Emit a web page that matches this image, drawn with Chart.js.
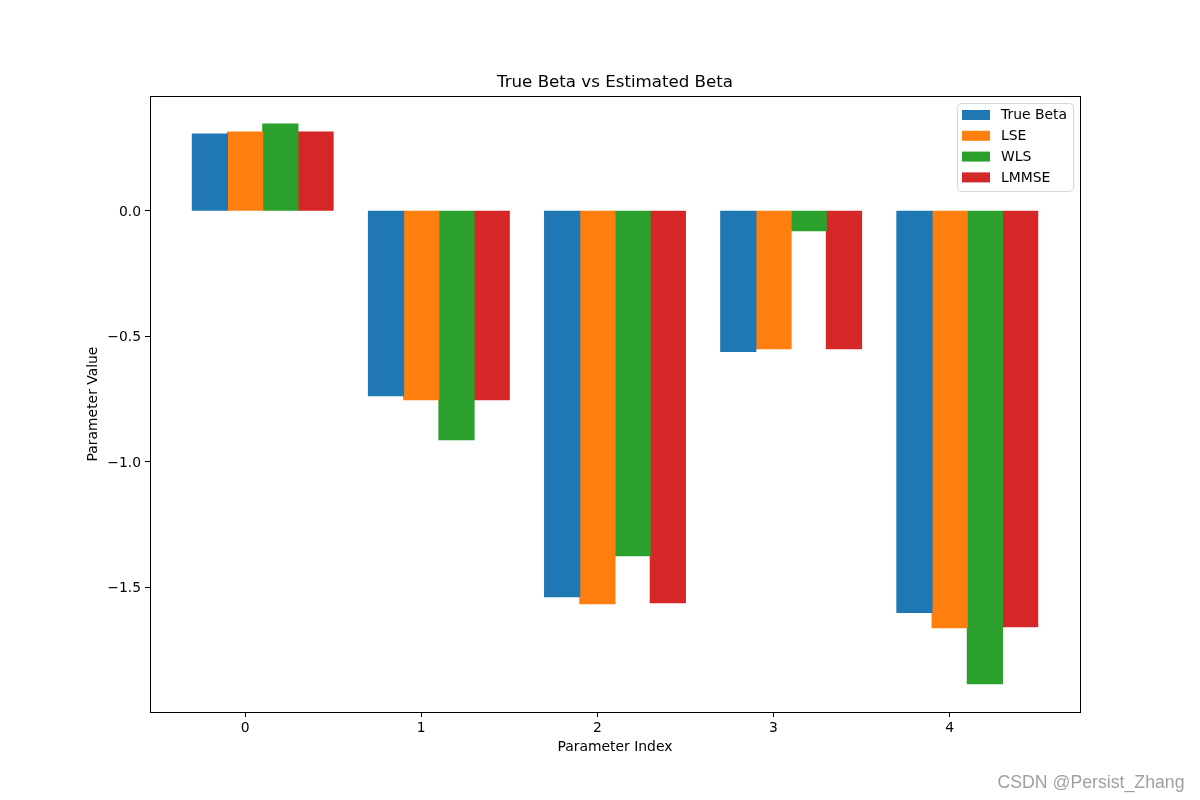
<!DOCTYPE html>
<html>
<head>
<meta charset="utf-8">
<script src="https://cdn.jsdelivr.net/npm/chart.js@4/dist/chart.umd.min.js"></script>
<style>
  html, body { margin: 0; padding: 0; background: #ffffff; }
  #wrap { width: 1200px; height: 800px; position: relative; }
</style>
</head>
<body>
<div id="wrap"><canvas id="c" width="1200" height="800"></canvas></div>
<script>
// ---- data ----
const paramIndex = [0, 1, 2, 3, 4];
const seriesNames = ['True Beta', 'LSE', 'WLS', 'LMMSE'];
const trueBeta = [0.306, -0.737, -1.538, -0.561, -1.601];
const lse      = [0.314, -0.753, -1.566, -0.550, -1.661];
const wls      = [0.345, -0.912, -1.375, -0.080, -1.884];
const lmmse    = [0.314, -0.753, -1.562, -0.550, -1.657];
const xTicks = [0, 1, 2, 3, 4];
const yTicks = [-1.5, -1.0, -0.5, 0.0];
const yTickLabels = ['\u22121.5', '\u22121.0', '\u22120.5', '0.0'];
const chartTitle = 'True Beta vs Estimated Beta';
const xTitle = 'Parameter Index';
const yTitle = 'Parameter Value';
const watermark = 'CSDN @Persist_Zhang';

// ---- styles / layout ----
const colors = ['#1f77b4', '#ff7f0e', '#2ca02c', '#d62728'];
const FONT = "'DejaVu Sans', 'Noto Sans', sans-serif";
const groupShift = 0.1;           // bars span i-0.3 .. i+0.5 like the matplotlib offsets
const xRange = [-0.54, 4.74];
const yRange = [-1.997, 0.457];

const allSeries = [trueBeta, lse, wls, lmmse];
const datasets = allSeries.map((vals, k) => ({
  label: seriesNames[k],
  data: paramIndex.map((p, i) => ({ x: p + groupShift, y: vals[i] })),
  backgroundColor: colors[k],
  borderWidth: 0,
  inflateAmount: 0.5,
  categoryPercentage: 0.8,
  barPercentage: 1.0
}));

const framePlugin = {
  id: 'frame',
  afterDatasetsDraw(chart) {
    const { ctx, chartArea: a } = chart;
    ctx.save();
    ctx.strokeStyle = '#000';
    ctx.lineWidth = 1;
    ctx.strokeRect(Math.round(a.left) + 0.5, Math.round(a.top) + 0.5,
                   Math.round(a.right - a.left), Math.round(a.bottom - a.top));
    ctx.restore();
  }
};

const titlePlugin = {
  id: 'axesTitle',
  afterDraw(chart) {
    const { ctx, chartArea: a } = chart;
    ctx.save();
    ctx.font = '16.67px ' + FONT;
    ctx.fillStyle = '#000';
    ctx.textAlign = 'center';
    ctx.textBaseline = 'alphabetic';
    ctx.fillText(chartTitle, (a.left + a.right) / 2, a.top - 9);
    ctx.restore();
  }
};

const legendPlugin = {
  id: 'innerLegend',
  afterDraw(chart) {
    const { ctx, chartArea: a } = chart;
    const w = 116, h = 88;
    const x = a.right - 7 - w, y = a.top + 7;
    ctx.save();
    ctx.beginPath();
    const r = 4;
    ctx.moveTo(x + r + 0.5, y + 0.5);
    ctx.arcTo(x + w + 0.5, y + 0.5, x + w + 0.5, y + h + 0.5, r);
    ctx.arcTo(x + w + 0.5, y + h + 0.5, x + 0.5, y + h + 0.5, r);
    ctx.arcTo(x + 0.5, y + h + 0.5, x + 0.5, y + 0.5, r);
    ctx.arcTo(x + 0.5, y + 0.5, x + w + 0.5, y + 0.5, r);
    ctx.closePath();
    ctx.fillStyle = 'rgba(255,255,255,0.8)';
    ctx.fill();
    ctx.strokeStyle = 'rgba(204,204,204,0.8)';
    ctx.lineWidth = 1;
    ctx.stroke();
    ctx.font = '13.9px ' + FONT;
    ctx.textBaseline = 'middle';
    ctx.textAlign = 'left';
    chart.data.datasets.forEach((ds, i) => {
      const cy = y + 12 + i * 20.8;
      ctx.fillStyle = ds.backgroundColor;
      ctx.fillRect(x + 5, cy - 5, 28, 10);
      ctx.fillStyle = '#000';
      ctx.fillText(ds.label, x + 44, cy + 0.5);
    });
    ctx.restore();
  }
};

const watermarkPlugin = {
  id: 'watermark',
  afterDraw(chart) {
    const ctx = chart.ctx;
    ctx.save();
    ctx.font = "19px 'Liberation Sans', Arial, sans-serif";
    ctx.fillStyle = '#a0a0a0';
    ctx.textBaseline = 'alphabetic';
    ctx.textAlign = 'left';
    const tw = ctx.measureText(watermark).width;
    const sx = 187 / tw;
    ctx.translate(997.5, 788.3);
    ctx.scale(sx, 1);
    ctx.fillText(watermark, 0, 0);
    ctx.restore();
  }
};

new Chart(document.getElementById('c'), {
  type: 'bar',
  data: { datasets },
  plugins: [framePlugin, titlePlugin, legendPlugin, watermarkPlugin],
  options: {
    responsive: false,
    animation: false,
    layout: { padding: { left: 0, right: 120, top: 96, bottom: 0 } },
    plugins: {
      legend: { display: false },
      tooltip: { enabled: false },
      title: { display: false }
    },
    scales: {
      x: {
        type: 'linear',
        position: 'bottom',
        offset: false,
        min: xRange[0],
        max: xRange[1],
        afterBuildTicks: (s) => { s.ticks = xTicks.map(v => ({ value: v })); },
        afterFit: (s) => { s.height = 88; },
        ticks: {
          color: '#000',
          font: { family: FONT, size: 13.9 },
          padding: 3,
          maxRotation: 0,
          autoSkip: false,
          callback: (v) => String(v)
        },
        grid: { display: true, offset: false, drawOnChartArea: false, drawTicks: true, tickLength: 5, color: '#000', tickWidth: 1 },
        border: { display: false },
        title: {
          display: true,
          text: xTitle,
          color: '#000',
          font: { family: FONT, size: 13.9, lineHeight: 1.2 },
          padding: { top: 0, bottom: 44.2 }
        }
      },
      y: {
        type: 'linear',
        min: yRange[0],
        max: yRange[1],
        afterBuildTicks: (s) => { s.ticks = yTicks.map(v => ({ value: v })); },
        afterFit: (s) => { s.width = 150; },
        ticks: {
          color: '#000',
          font: { family: FONT, size: 13.9 },
          padding: 4,
          labelOffset: 1.5,
          autoSkip: false,
          callback: (v) => {
            const i = yTicks.findIndex(t => Math.abs(t - v) < 1e-9);
            return i >= 0 ? yTickLabels[i] : '';
          }
        },
        grid: { display: true, offset: false, drawOnChartArea: false, drawTicks: true, tickLength: 5, color: '#000', tickWidth: 1 },
        border: { display: false },
        title: {
          display: true,
          text: yTitle,
          color: '#000',
          font: { family: FONT, size: 13.9, lineHeight: 1.2 },
          padding: { top: 84.6, bottom: 0 }
        }
      }
    }
  }
});
</script>
</body>
</html>
